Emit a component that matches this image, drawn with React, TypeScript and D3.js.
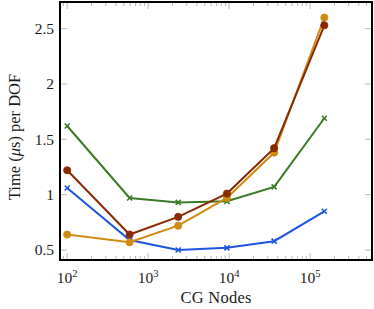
import React from 'react';
import * as d3 from 'd3';

const nodes = [100, 590, 2350, 9400, 36000, 150000];
const greenSeries = [1.62, 0.97, 0.93, 0.94, 1.07, 1.69];
const blueSeries = [1.06, 0.59, 0.5, 0.52, 0.58, 0.85];
const brownSeries = [1.22, 0.64, 0.8, 1.01, 1.42, 2.53];
const orangeSeries = [0.64, 0.57, 0.72, 0.97, 1.38, 2.6];
const yTicks = [0.5, 1, 1.5, 2, 2.5];
const yTickLabels = ['0.5', '1', '1.5', '2', '2.5'];
const xMajor = [2, 3, 4, 5];

const series = [
  { name: 'green', values: greenSeries, color: '#3b7a26', marker: 'x' },
  { name: 'blue', values: blueSeries, color: '#1c55e0', marker: 'x' },
  { name: 'orange', values: orangeSeries, color: '#d08a10', marker: 'o' },
  { name: 'brown', values: brownSeries, color: '#8a2a02', marker: 'o' },
];

const W = 374;
const H = 309;
const margin = { top: 2, right: 2, bottom: 49, left: 60 };

export default function App() {
  const x = d3.scaleLog().domain([81.5, 582000]).range([margin.left, W - margin.right]);
  const y = d3.scaleLinear().domain([0.41, 2.74]).range([H - margin.bottom, margin.top]);
  const line = d3.line<number>()
    .x((_, i) => x(nodes[i]))
    .y(d => y(d));

  const minor: number[] = [];
  for (let e = 1; e <= 5; e++) {
    for (let k = 2; k <= 9; k++) {
      const v = k * Math.pow(10, e);
      if (v > 81.5 && v < 582000) minor.push(v);
    }
  }
  const top = margin.top;
  const bottom = H - margin.bottom;
  const left = margin.left;
  const right = W - margin.right;
  const font = '"Liberation Serif", "DejaVu Serif", serif';

  return (
    <svg width={W} height={H} style={{ position: 'absolute', left: 0, top: 0 }} fontFamily={font}>
      <rect x={0} y={0} width={W} height={H} fill="#fff" />
      <g stroke="#bbb" strokeWidth={1}>
        {minor.map(v => (
          <g key={v}>
            <line x1={x(v)} x2={x(v)} y1={bottom} y2={bottom - 4} />
            <line x1={x(v)} x2={x(v)} y1={top} y2={top + 4} />
          </g>
        ))}
        {xMajor.map(e => (
          <g key={e}>
            <line x1={x(Math.pow(10, e))} x2={x(Math.pow(10, e))} y1={bottom} y2={bottom - 7} />
            <line x1={x(Math.pow(10, e))} x2={x(Math.pow(10, e))} y1={top} y2={top + 7} />
          </g>
        ))}
        {yTicks.map(v => (
          <g key={v}>
            <line x1={left} x2={left + 7} y1={y(v)} y2={y(v)} />
            <line x1={right} x2={right - 7} y1={y(v)} y2={y(v)} />
          </g>
        ))}
      </g>
      {series.map(s => (
        <g key={s.name}>
          <path d={line(s.values) || ''} fill="none" stroke={s.color} strokeWidth={2} />
          {s.values.map((v, i) => {
            const cx = x(nodes[i]);
            const cy = y(v);
            return s.marker === 'o' ? (
              <circle key={i} cx={cx} cy={cy} r={3.6} fill={s.color} stroke={s.color} strokeWidth={0.8} />
            ) : (
              <g key={i} stroke={s.color} strokeWidth={1.6}>
                <line x1={cx - 2.5} x2={cx + 2.5} y1={cy - 2.5} y2={cy + 2.5} />
                <line x1={cx - 2.5} x2={cx + 2.5} y1={cy + 2.5} y2={cy - 2.5} />
              </g>
            );
          })}
        </g>
      ))}
      <rect x={left} y={top} width={right - left} height={bottom - top} fill="none" stroke="#000" strokeWidth={2} />
      <g fontSize={15.5} fill="#1a1a1a">
        {yTicks.map((v, i) => (
          <text key={v} x={left - 6} y={y(v)} dy="0.35em" textAnchor="end">{yTickLabels[i]}</text>
        ))}
        {xMajor.map(e => (
          <text key={e} x={x(Math.pow(10, e))} y={bottom + 23} textAnchor="middle">
            10<tspan fontSize={10.5} dy={-6}>{e}</tspan>
          </text>
        ))}
      </g>
      <g fontSize={16.5} fill="#1a1a1a">
        <text x={216} y={303} textAnchor="middle" textLength={71}>CG Nodes</text>
        <text transform="translate(20,137) rotate(-90)" textAnchor="middle">
          Time (<tspan fontStyle="italic">μ</tspan>s) per DOF
        </text>
      </g>
    </svg>
  );
}
